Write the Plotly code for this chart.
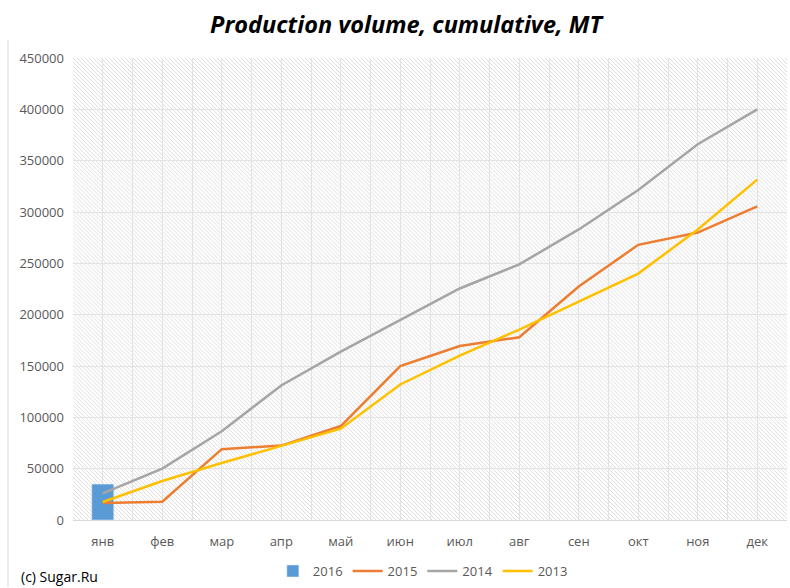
import base64
import plotly.graph_objects as go

months = ["янв", "фев", "мар", "апр", "май", "июн", "июл", "авг", "сен", "окт", "ноя", "дек"]
v2016 = [35000]
v2015 = [16500, 17800, 69000, 72500, 91500, 150000, 169500, 178000, 227500, 268000, 280000, 305500]
v2014 = [26000, 50000, 86500, 131000, 164000, 195000, 225500, 249000, 283000, 321500, 366000, 400000]
v2013 = [17500, 38000, 55500, 72000, 89000, 132000, 160000, 185500, 213000, 240000, 283000, 331500]

xi = list(range(len(months)))

fig = go.Figure()
fig.add_trace(go.Bar(x=xi[:len(v2016)], y=v2016, name="2016", marker_color="#5B9BD5", width=0.37))
fig.add_trace(go.Scatter(x=xi, y=v2015, name="2015", mode="lines", line=dict(color="#ED7D31", width=2.5)))
fig.add_trace(go.Scatter(x=xi, y=v2014, name="2014", mode="lines", line=dict(color="#A5A5A5", width=2.5)))
fig.add_trace(go.Scatter(x=xi, y=v2013, name="2013", mode="lines", line=dict(color="#FFC000", width=2.5)))

svg = ('<svg xmlns="http://www.w3.org/2000/svg" width="714" height="463">'
       '<defs><pattern id="p" width="4" height="4" patternUnits="userSpaceOnUse">'
       '<path d="M-1,-1 L5,5 M-1,3 L1,5 M3,-1 L5,1" stroke="#dedede" stroke-width="1"/>'
       '</pattern></defs><rect width="714" height="463" fill="url(#p)"/></svg>')
uri = "data:image/svg+xml;base64," + base64.b64encode(svg.encode()).decode()

font = "'Open Sans', Lato, sans-serif"
fig.update_layout(
    width=790, height=588,
    margin=dict(l=73, r=3, t=58, b=67),
    paper_bgcolor="white", plot_bgcolor="rgba(0,0,0,0)",
    font=dict(family=font, color="#595959", size=13),
    title=dict(text="<b><i>Production volume, cumulative, MT</i></b>", x=406/790, xanchor="center",
               xref="container", y=1 - 25/588, yanchor="middle", font=dict(size=23.5, color="black", family=font)),
    showlegend=True,
    legend=dict(orientation="h", x=0.49, xanchor="center", y=-0.108, yanchor="middle",
                font=dict(size=13, color="#595959"), traceorder="normal"),
    xaxis=dict(range=[-0.5, 11.5], tickvals=xi, ticktext=months, showgrid=True, gridcolor="#e3e3e3",
               minor=dict(dtick=0.5, tick0=-0.5, showgrid=True, gridcolor="#e3e3e3", ticks=""),
               zeroline=False, showline=True, linecolor="#d9d9d9", ticks="", automargin=False,
               ticklabelstandoff=9, tickfont=dict(size=13, color="#595959")),
    yaxis=dict(range=[0, 450000], dtick=50000, showgrid=True, gridcolor="#e3e3e3", zeroline=False,
               tickformat="d", ticks="", ticklabelstandoff=8, automargin=False,
               tickfont=dict(size=13, color="#595959")),
    images=[dict(source=uri, xref="paper", yref="paper", x=0, y=1, sizex=1, sizey=1,
                 sizing="stretch", layer="below", xanchor="left", yanchor="top")],
    shapes=[dict(type="line", xref="paper", yref="paper", x0=(8 - 73) / 714, x1=(8 - 73) / 714,
                 y0=(521 - 588) / 463, y1=(521 - 40) / 463, line=dict(color="#d9d9d9", width=1))],
    annotations=[dict(text="(c) Sugar.Ru", xref="paper", yref="paper", x=(19 - 73) / 714, xanchor="left",
                      y=(521 - 578) / 463, yanchor="middle", showarrow=False,
                      font=dict(size=14, color="black", family=font))],
    bargap=0.6,
)
fig.write_html("out.html", config={"displayModeBar": False},
               post_script="document.body.style.margin='0';")
